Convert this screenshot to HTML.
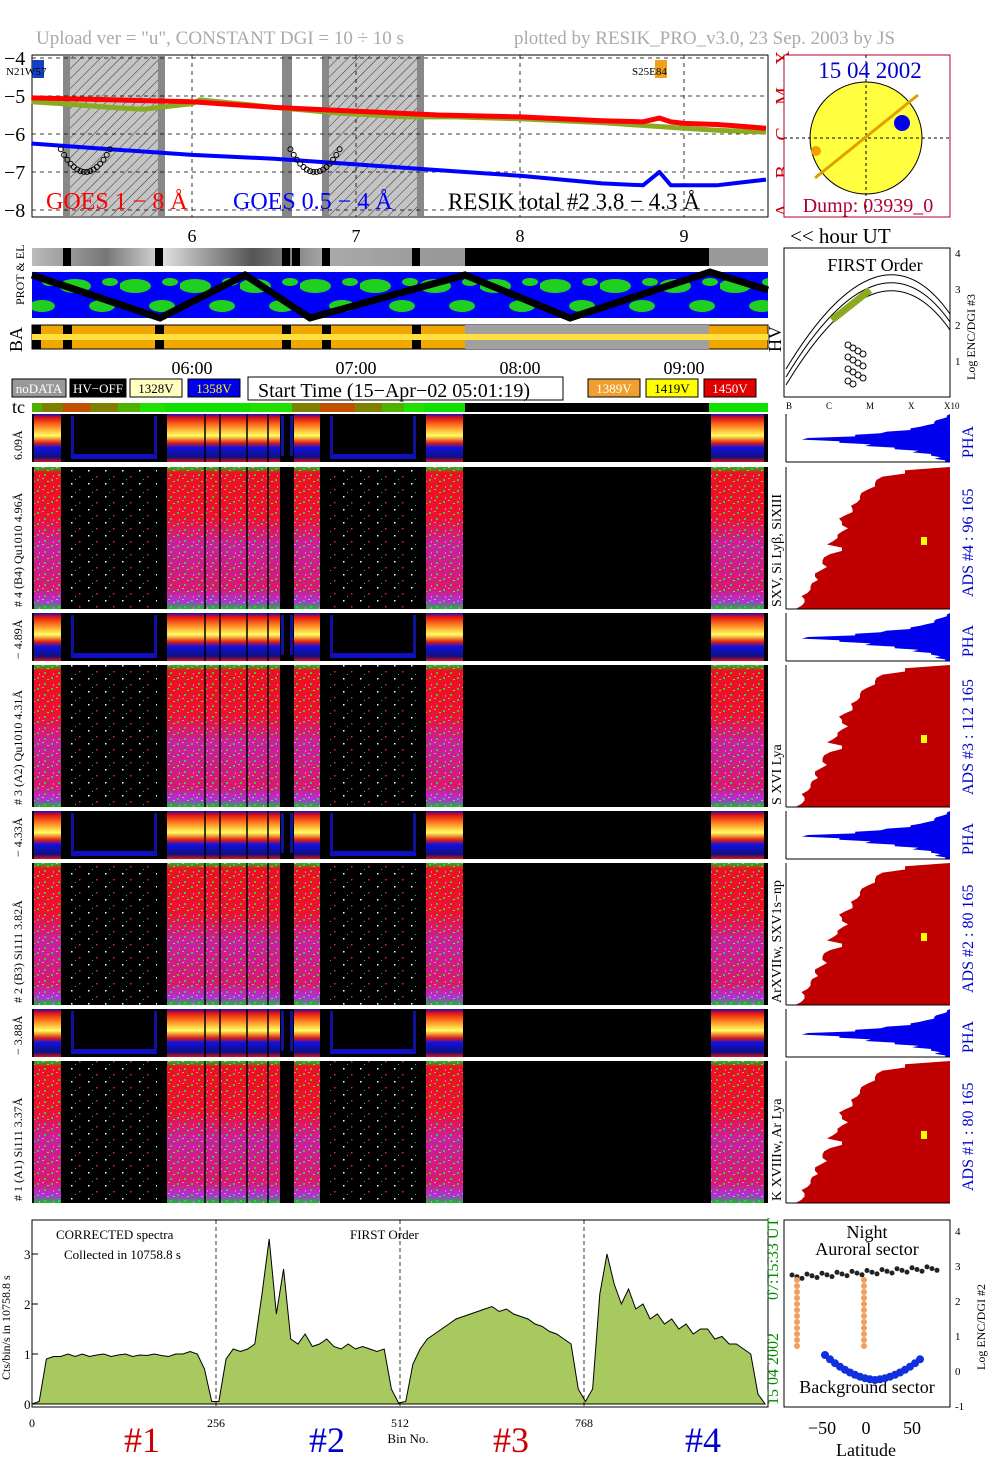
<!DOCTYPE html>
<html><head><meta charset="utf-8"><style>
html,body{margin:0;padding:0;background:#fff;}
svg{display:block;font-family:"Liberation Serif",serif;}
</style></head><body>
<svg id="s" width="1004" height="1477" viewBox="0 0 1004 1477" xmlns="http://www.w3.org/2000/svg">
<defs>
<pattern id="hatch" width="7" height="7" patternUnits="userSpaceOnUse" patternTransform="rotate(45)"><rect width="7" height="7" fill="#c4c4c4"/><line x1="0" y1="0" x2="0" y2="7" stroke="#333" stroke-width="1"/></pattern>
<linearGradient id="gbig" x1="0" y1="0" x2="0" y2="1">
<stop offset="0" stop-color="#10c020"/><stop offset="0.04" stop-color="#ee1020"/><stop offset="0.35" stop-color="#f01030"/><stop offset="0.55" stop-color="#c820a0"/><stop offset="0.85" stop-color="#d81870"/><stop offset="0.95" stop-color="#b030e0"/><stop offset="1" stop-color="#10c020"/></linearGradient>
<linearGradient id="gpha" x1="0" y1="0" x2="0" y2="1">
<stop offset="0" stop-color="#1010c0"/><stop offset="0.08" stop-color="#e01010"/><stop offset="0.25" stop-color="#ff8020"/><stop offset="0.45" stop-color="#ffff60"/><stop offset="0.6" stop-color="#e02010"/><stop offset="0.7" stop-color="#1010e0"/><stop offset="0.9" stop-color="#101080"/><stop offset="1" stop-color="#e01010"/></linearGradient>
<pattern id="noise" width="14" height="11" patternUnits="userSpaceOnUse"><rect x="2" y="1" width="2" height="2" fill="#30d030"/><rect x="9" y="6" width="2" height="2" fill="#30d030"/><rect x="5" y="8" width="2" height="1" fill="#80e040"/><rect x="11" y="2" width="1" height="2" fill="#ff60ff"/><rect x="0" y="5" width="2" height="1" fill="#ffffff" opacity="0.5"/></pattern>
<pattern id="sparse" width="17" height="13" patternUnits="userSpaceOnUse"><rect width="17" height="13" fill="#000"/><rect x="3" y="2" width="1.5" height="1.5" fill="#fff"/><rect x="11" y="8" width="1.5" height="1.5" fill="#f02040"/><rect x="7" y="11" width="1" height="1" fill="#30c030"/></pattern>
<pattern id="ggreen" width="60" height="46" patternUnits="userSpaceOnUse"><rect width="60" height="46" fill="#0000ff"/><ellipse cx="15" cy="10" rx="16" ry="7" fill="#20d020"/><ellipse cx="42" cy="30" rx="13" ry="6" fill="#20d020"/><ellipse cx="50" cy="6" rx="8" ry="4" fill="#20d020"/></pattern>
</defs>

<text x="36" y="44" font-size="19" fill="#aaa">Upload ver = "u", CONSTANT  DGI =  10 ÷  10 s</text>
<text x="514" y="44" font-size="19" fill="#aaa">plotted by RESIK_PRO_v3.0, 23 Sep. 2003 by JS</text>

<g id="goes">
<rect x="32" y="55" width="736" height="162" fill="#fff" stroke="#000"/>
</g>
<g id="hours"></g>
<g id="strips"></g>
<g id="spec"></g>
<g id="hist"></g>
<g id="bottom"></g>
<g id="right"></g>
</svg>
<script>
// ---- data ----
const goesTimes=[5.02,5.5,6.0,6.5,7.0,7.5,8.0,8.5,8.75,8.85,8.92,9.0,9.2,9.3,9.5];
const goesLong=[-5.05,-5.1,-5.15,-5.3,-5.4,-5.5,-5.55,-5.65,-5.68,-5.58,-5.68,-5.72,-5.75,-5.78,-5.85];
const goesShort=[-6.25,-6.4,-6.55,-6.65,-6.8,-6.95,-7.1,-7.3,-7.35,-7.0,-7.35,-7.35,-7.35,-7.3,-7.2];
const resikTimes=[5.02,5.2,5.5,5.7,6.0,6.05,6.5,6.9,7.3,7.6,8.0,8.5,9.0,9.2,9.5];
const resikVals=[-5.15,-5.2,-5.3,-5.35,-5.2,-5.1,-5.3,-5.45,-5.55,-5.55,-5.6,-5.7,-5.85,-5.9,-5.95];
const goesTicks=[-4,-5,-6,-7,-8];
const hourTicks=[6,7,8,9];
const specBins=[];for(let b=0;b<=1020;b+=10)specBins.push(b);
const specVals=[0,0.05,0.9,0.95,0.95,1.0,0.95,1.0,0.95,0.98,1.0,0.95,0.98,1.0,0.95,0.98,0.97,1.0,0.97,0.95,1.0,1.0,1.05,1.0,0.7,0.05,0.05,0.9,1.1,1.05,1.1,1.2,2.2,3.3,1.8,2.7,1.3,1.2,1.4,1.15,1.2,1.3,1.15,1.1,1.2,1.1,1.15,1.1,1.05,1.1,0.3,0.02,0.05,0.8,1.1,1.3,1.4,1.5,1.6,1.7,1.75,1.8,1.85,1.9,1.95,1.85,1.9,1.8,1.75,1.7,1.6,1.55,1.45,1.4,1.3,1.2,0.3,0.05,0.3,2.2,3.0,2.4,2.0,2.3,1.9,2.0,1.7,1.8,1.6,1.7,1.5,1.6,1.4,1.5,1.5,1.3,1.35,1.2,1.2,1.1,1.0,0.2,0];
const specTicks=[0,256,512,768];
const specYTicks=[0,1,2,3];
const phaProfile=[0.02,0.05,0.1,0.15,0.25,0.4,0.6,0.9,0.7,0.5,0.35,0.2,0.12,0.06,0.03];
const adsProfile=[0.3,0.45,0.5,0.55,0.6,0.62,0.65,0.7,0.72,0.68,0.75,0.78,0.72,0.8,0.85,0.82,0.9,0.88,0.93,0.95,0.97,0.99];

const NS='http://www.w3.org/2000/svg';
function mk(p,tag,at){const e=document.createElementNS(NS,tag);for(const k in at)e.setAttribute(k,at[k]);p.appendChild(e);return e;}
function tx(p,x,y,s,size,fill,extra){const e=mk(p,'text',Object.assign({x:x,y:y,'font-size':size,fill:fill||'#000'},extra||{}));e.textContent=s;return e;}
const hx=t=>192+(t-6)*164;
const gy=v=>58+(-4-v)*38;

// ---- GOES panel ----
const G=document.getElementById('goes');
[[63,165],[282,292],[322,424]].forEach(r=>{
 const e=mk(G,'rect',{x:r[0],y:56,width:r[1]-r[0],height:160,fill:'url(#hatch)'});
 
 
 mk(G,'rect',{x:r[0],y:56,width:7,height:160,fill:'#888'});mk(G,'rect',{x:r[1]-7,y:56,width:7,height:160,fill:'#888'});
});
goesTicks.forEach(v=>{
 mk(G,'line',{x1:32,x2:768,y1:gy(v),y2:gy(v),stroke:'#000','stroke-dasharray':'4,4','stroke-width':0.8});
 const t=tx(G,4,gy(v)+7,String(v).replace('-','−'),20,'#000');
 
 
});
hourTicks.forEach(h=>mk(G,'line',{x1:hx(h),x2:hx(h),y1:55,y2:217,stroke:'#000','stroke-dasharray':'4,4','stroke-width':0.8}));
function line(arrT,arrV,col,w,name){const e=mk(G,'polyline',{points:arrT.map((t,i)=>hx(t)+','+gy(arrV[i])).join(' '),fill:'none',stroke:col,'stroke-width':w,'stroke-linejoin':'round'});
 
 }
line(resikTimes,resikVals,'#8aaa20',5,'resik-total-line');
line(goesTimes,goesLong,'#ff0000',5,'goes-long-line');
line(goesTimes,goesShort,'#0000ff',4,'goes-short-line');
[[5.2,5.5],[6.6,6.9]].forEach(r=>{for(let t=r[0];t<=r[1];t+=0.02){const k=Math.abs(t-(r[0]+r[1])/2)/((r[1]-r[0])/2);mk(G,'circle',{cx:hx(t),cy:gy(-7+0.6*k*k),r:2.5,fill:'none',stroke:'#000','stroke-width':1});}});
mk(G,'rect',{x:32,y:60,width:12,height:18,fill:'#1540c0'});
tx(G,6,75,'N21W57',11,'#000');
mk(G,'rect',{x:655,y:60,width:12,height:18,fill:'#f0a020'});
tx(G,632,75,'S25E84',11,'#000');
tx(G,46,209,'GOES 1 − 8 Å',24,'#ff0000',{});
tx(G,233,209,'GOES 0.5 − 4 Å',24,'#0000ff',{});
tx(G,448,209,'RESIK total #2  3.8 − 4.3 Å',23,'#000',{});
['A','B','C','M','X'].forEach((l,i)=>{tx(G,781,gy(-8+i)+8,l,20,'#cc0000',{transform:`rotate(-90 ${781} ${gy(-8+i)})`,'text-anchor':'middle'});});

// ---- hour axis ----
const H=document.getElementById('hours');
hourTicks.forEach(h=>{const t=tx(H,hx(h),242,String(h),18,'#000',{'text-anchor':'middle'});
 
 
 const u=tx(H,hx(h),374,'0'+h+':00',18,'#000',{'text-anchor':'middle'});
 
 });
tx(H,790,243,'<< hour UT',21,'#000');

// ---- strips ----
const S=document.getElementById('strips');
const gs=mk(S,'linearGradient',{id:'grey',x1:0,x2:1,y1:0,y2:0});
[['0','#bbb'],['0.1','#777'],['0.18','#ddd'],['0.3','#555'],['0.4','#aaa'],['0.55','#999']].forEach(s=>mk(gs,'stop',{offset:s[0],'stop-color':s[1]}));
mk(S,'rect',{x:32,y:248,width:736,height:18,fill:'url(#grey)',});
mk(S,'rect',{x:465,y:248,width:244,height:18,fill:'#000'});
[63,155,282,292,322,412].forEach(x=>mk(S,'rect',{x:x,y:248,width:8,height:18,fill:'#000'}));
mk(S,'rect',{x:32,y:272,width:736,height:46,fill:'url(#ggreen)',});
mk(S,'polyline',{points:'32,275 160,318 245,275 310,318 465,275 570,318 710,272 768,290',fill:'none',stroke:'#000','stroke-width':7});
mk(S,'rect',{x:32,y:325,width:736,height:24,fill:'#f0a800',stroke:'#000',});
mk(S,'rect',{x:465,y:325,width:244,height:24,fill:'#a0a0a0'});
[32,63,155,282,322,412].forEach(x=>mk(S,'rect',{x:x,y:325,width:9,height:24,fill:'#000'}));
mk(S,'line',{x1:32,x2:768,y1:337,y2:337,stroke:'#ffe040','stroke-width':6});
tx(S,24,305,'PROT & EL',12,'#000',{transform:'rotate(-90 24 305)'});
tx(S,22,352,'BA',18,'#000',{transform:'rotate(-90 22 352)'});
tx(S,781,352,'HV',18,'#000',{transform:'rotate(-90 781 352)'});
const leg=[[12,'#999','noDATA','#fff',54],[70,'#000','HV−OFF','#fff',56],[130,'#ffffc0','1328V','#000',52],[188,'#0000ee','1358V','#ff0',52],[588,'#f0a030','1389V','#fff',52],[646,'#ffff00','1419V','#000',52],[704,'#e00000','1450V','#fff',52]];
leg.forEach(l=>{const r=mk(S,'rect',{x:l[0],y:379,width:l[4],height:18,fill:l[1],stroke:'#000'});
 
 
 tx(S,l[0]+l[4]/2,393,l[2],13,l[3],{'text-anchor':'middle'});});
mk(S,'rect',{x:248,y:377,width:315,height:23,fill:'#fff',stroke:'#000'});
tx(S,258,397,'Start Time (15−Apr−02 05:01:19)',20,'#000',{});
tx(S,12,413,'tc',18,'#000');
const tcc=[[32,'#50b000'],[42,'#808000'],[63,'#c05000'],[90,'#808000'],[118,'#50b000'],[140,'#20e000'],[165,'#10e000'],[250,'#20e000'],[292,'#808000'],[320,'#c05000'],[355,'#808000'],[382,'#50b000'],[404,'#20e000'],[424,'#10e000'],[465,'#000'],[709,'#10e000'],[768,'']];
for(let i=0;i<tcc.length-1;i++)mk(S,'rect',{x:tcc[i][0],y:403,width:tcc[i+1][0]-tcc[i][0],height:9,fill:tcc[i][1]});

// ---- spectrograms ----
const P=document.getElementById('spec');
const on=[[32,63],[165,282],[292,322],[424,465],[709,766]];
const off=[[63,165],[282,292],[322,424]];
const panels=[[414,48,'pha','6.09Å'],[467,142,'big','# 4 (B4) Qu1010 4.96Å'],[613,48,'pha','− 4.89Å'],[665,142,'big','# 3 (A2) Qu1010 4.31Å'],[811,48,'pha','− 4.33Å'],[863,142,'big','# 2 (B3) Si111 3.82Å'],[1009,48,'pha','− 3.88Å'],[1061,142,'big','# 1 (A1) Si111 3.37Å']];
panels.forEach((p,i)=>{
 const g=mk(P,'g',{});
 
 
 mk(g,'rect',{x:32,y:p[0],width:736,height:p[1],fill:'#000'});
 on.forEach(r=>{
  mk(g,'rect',{x:r[0]+2,y:p[0],width:r[1]-r[0]-4,height:p[1],fill:p[2]==='pha'?'url(#gpha)':'url(#gbig)'});
  if(p[2]==='big')mk(g,'rect',{x:r[0]+2,y:p[0],width:r[1]-r[0]-4,height:p[1],fill:'url(#noise)'});
 });
 off.forEach(r=>{
  if(p[2]==='big')mk(g,'rect',{x:r[0]+8,y:p[0],width:r[1]-r[0]-16,height:p[1],fill:'url(#sparse)'});
  else {mk(g,'rect',{x:r[0]+8,y:p[0]+p[1]-8,width:r[1]-r[0]-16,height:5,fill:'#1010c0'});
   mk(g,'rect',{x:r[0]+8,y:p[0]+2,width:3,height:p[1]-8,fill:'#1010a0'});mk(g,'rect',{x:r[1]-11,y:p[0]+2,width:3,height:p[1]-8,fill:'#1010a0'});}
 });
 [205,220,247,268].forEach(x=>mk(g,'line',{x1:x,x2:x,y1:p[0],y2:p[0]+p[1],stroke:'#000','stroke-width':1.5}));
 tx(P,22,p[0]+p[1]-2,p[3],12,'#000',{transform:`rotate(-90 22 ${p[0]+p[1]-2})`});
});

// ---- right histograms ----
const R=document.getElementById('hist');
const rlabels=[['PHA','SXV, Si Lyβ, SiXIII','ADS #4 :   96 165'],['PHA','S XVI Lya','ADS #3 :   112 165'],['PHA','ArXVIIw, SXV1s−np','ADS #2 :   80 165'],['PHA','K XVIIIw, Ar Lya','ADS #1 :   80 165']];
panels.forEach((p,i)=>{
 const prof=p[2]==='pha'?phaProfile:adsProfile;
 const x0=786,x1=950,n=prof.length;
 const pts=[x1+','+p[0]];
 prof.forEach((v,k)=>{const y=p[0]+(k+0.5)*p[1]/n;const w=p[2]==='pha'?v*158:v*150;pts.push((x1-w)+','+y);pts.push((x1-w-(k%2?6:0))+','+(y+p[1]/n/2));});
 pts.push(x1+','+(p[0]+p[1]));
 const e=mk(R,'polygon',{points:pts.join(' '),fill:p[2]==='pha'?'#0000ee':'#c00000'});
 
 
 mk(R,'line',{x1:x0,x2:x0,y1:p[0],y2:p[0]+p[1],stroke:'#000'});
 mk(R,'line',{x1:x0,x2:x1,y1:p[0]+p[1],y2:p[0]+p[1],stroke:'#000'});
 const j=Math.floor(i/2);
 if(p[2]==='pha')tx(R,973,p[0]+44,rlabels[j][0],16,'#0000cc',{transform:`rotate(-90 973 ${p[0]+44})`});
 else{mk(R,'rect',{x:921,y:p[0]+70,width:6,height:8,fill:'#ffff00'});
  tx(R,973,p[0]+p[1]-12,rlabels[j][2],16,'#0000cc',{transform:`rotate(-90 973 ${p[0]+p[1]-12})`});
  tx(R,781,p[0]+p[1]-2,rlabels[j][1],14,'#000',{transform:`rotate(-90 781 ${p[0]+p[1]-2})`});}
});

// ---- bottom spectrum ----
const B=document.getElementById('bottom');
const bx=b=>32+b*736/1024, by=v=>1404-v*50;
mk(B,'rect',{x:32,y:1220,width:736,height:187,fill:'#fff',stroke:'#000'});
const poly=[bx(0)+','+by(0)];specBins.forEach((b,i)=>poly.push(bx(b)+','+by(specVals[i])));poly.push(bx(1020)+','+by(0));
const sp=mk(B,'polygon',{points:poly.join(' '),fill:'#a8c860',stroke:'#000','stroke-width':1});


[256,512,768].forEach(b=>mk(B,'line',{x1:bx(b),x2:bx(b),y1:1220,y2:1407,stroke:'#000','stroke-dasharray':'4,3','stroke-width':0.8}));
specTicks.forEach(b=>{const t=tx(B,bx(b),1427,String(b),12,'#000',{'text-anchor':'middle'});
 
 });
specYTicks.forEach(v=>{const t=tx(B,24,by(v)+5,String(v),13,'#000');
 
 
 mk(B,'line',{x1:32,x2:38,y1:by(v),y2:by(v),stroke:'#000'});});
tx(B,408,1443,'Bin No.',13,'#000',{'text-anchor':'middle'});
tx(B,10,1380,'Cts/bin/s in 10758.8 s',12,'#000',{transform:'rotate(-90 10 1380)'});
tx(B,56,1239,'CORRECTED spectra',13,'#000');
tx(B,64,1259,'Collected in 10758.8 s',13,'#000');
tx(B,350,1239,'FIRST Order',13,'#000');
tx(B,778,1405,'15 04 2002',16,'#008800',{transform:'rotate(-90 778 1405)'});
tx(B,778,1300,'07:15:33 UT',16,'#008800',{transform:'rotate(-90 778 1300)'});
[['#1',142,'#cc0000'],['#2',327,'#0000cc'],['#3',511,'#cc0000'],['#4',703,'#0000cc']].forEach(l=>{const t=tx(B,l[1],1452,l[0],36,l[2],{'text-anchor':'middle'});
 
 });

// ---- right panels ----
const Q=document.getElementById('right');
mk(Q,'rect',{x:784,y:55,width:166,height:162,fill:'#fff',stroke:'#b00030',});
mk(Q,'circle',{cx:866,cy:138,r:56,fill:'#ffff40',stroke:'#000'});
mk(Q,'line',{x1:784,x2:950,y1:138,y2:138,stroke:'#000','stroke-dasharray':'3,3'});
mk(Q,'line',{x1:866,x2:866,y1:55,y2:217,stroke:'#000','stroke-dasharray':'3,3'});
mk(Q,'line',{x1:815,x2:918,y1:178,y2:95,stroke:'#e0a000','stroke-width':3});
mk(Q,'circle',{cx:902,cy:123,r:8,fill:'#0000ee'});
mk(Q,'circle',{cx:816,cy:151,r:5,fill:'#f0a000'});
tx(Q,870,78,'15 04 2002',23,'#0000cc',{'text-anchor':'middle'});
tx(Q,868,212,'Dump: 03939_0',20,'#b00030',{'text-anchor':'middle'});
mk(Q,'rect',{x:784,y:248,width:166,height:149,fill:'#fff',stroke:'#000',});
tx(Q,875,271,'FIRST Order',18,'#000',{'text-anchor':'middle'});
[0,8,16].forEach(d=>mk(Q,'path',{d:`M786,${385-d} Q880,${230-d} 950,${330-d}`,fill:'none',stroke:'#000'}));
mk(Q,'line',{x1:832,x2:870,y1:320,y2:290,stroke:'#8aaa20','stroke-width':7});
for(let k=0;k<14;k++)mk(Q,'circle',{cx:848+(k%4)*5,cy:345+k*3,r:3,fill:'none',stroke:'#000'});
[1,2,3,4].forEach(v=>tx(Q,955,397-v*36+4,String(v),11,'#000'));
tx(Q,975,380,'Log ENC/DGI #3',12,'#000',{transform:'rotate(-90 975 380)'});
[['B',786],['C',826],['M',866],['X',908],['X10',944]].forEach(l=>tx(Q,l[1],409,l[0],9,'#000'));
mk(Q,'rect',{x:784,y:1220,width:166,height:187,fill:'#fff',stroke:'#000',});
tx(Q,867,1238,'Night',18,'#000',{'text-anchor':'middle'});
tx(Q,867,1255,'Auroral sector',18,'#000',{'text-anchor':'middle'});
tx(Q,867,1393,'Background sector',18,'#000',{'text-anchor':'middle'});
for(let k=0;k<30;k++){mk(Q,'circle',{cx:792+k*5,cy:1275+(k%3)*2-k*0.3,r:2.5,fill:'#222'});}
for(let k=0;k<20;k++){mk(Q,'circle',{cx:825+k*5,cy:1360+Math.pow((k-10)/10,2)*-20+20-Math.abs(k-10)*0.5,r:4,fill:'#1030e0'});}
for(let k=0;k<12;k++){mk(Q,'circle',{cx:864,cy:1280+k*6,r:3,fill:'#f0a060'});mk(Q,'circle',{cx:797,cy:1280+k*6,r:3,fill:'#f0a060'});}
[-1,0,1,2,3,4].forEach(v=>tx(Q,955,1371-v*35+4,String(v),11,'#000'));
tx(Q,985,1370,'Log ENC/DGI #2',12,'#000',{transform:'rotate(-90 985 1370)'});
[['−50',822],['0',866],['50',912]].forEach(l=>tx(Q,l[1],1434,l[0],18,'#000',{'text-anchor':'middle'}));
tx(Q,866,1456,'Latitude',18,'#000',{'text-anchor':'middle'});
</script>
</body></html>
